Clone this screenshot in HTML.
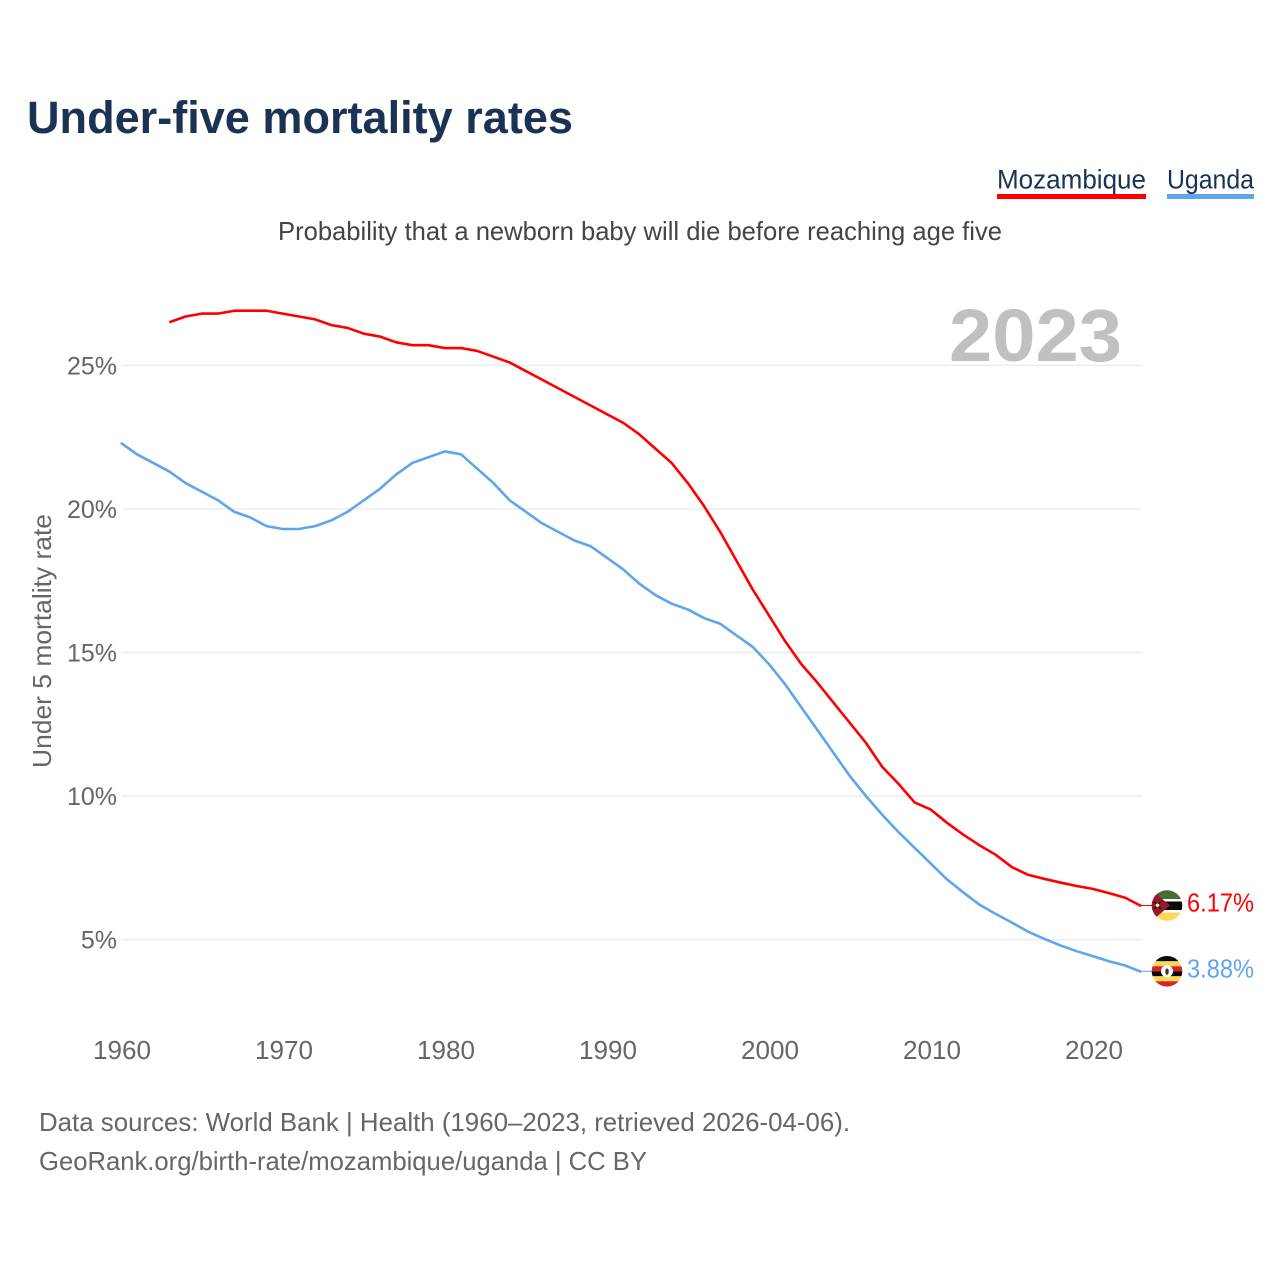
<!DOCTYPE html>
<html lang="en">
<head>
<meta charset="utf-8">
<title>Under-five mortality rates</title>
<style>
html,body{margin:0;padding:0;background:#fff;width:1280px;height:1280px;overflow:hidden}
svg{display:block}
text{font-family:"Liberation Sans",sans-serif}
</style>
</head>
<body>
<svg id="chart" xmlns="http://www.w3.org/2000/svg" width="1280" height="1280" viewBox="0 0 1280 1280">
  <defs>
    <clipPath id="flag-clip"><circle cx="0" cy="0" r="15.3"/></clipPath>
  </defs>
  <text x="27" y="133" font-size="45" font-weight="700" fill="#1a3253" textLength="546" lengthAdjust="spacingAndGlyphs">Under-five mortality rates</text>

  <g>
    <text x="997" y="188.5" font-size="27" fill="#1a3253" textLength="149" lengthAdjust="spacingAndGlyphs">Mozambique</text>
    <rect x="997" y="194" width="149" height="5" fill="#ff0000"/>
  </g>
  <g>
    <text x="1167" y="188.5" font-size="27" fill="#1a3253" textLength="87" lengthAdjust="spacingAndGlyphs">Uganda</text>
    <rect x="1167" y="194" width="87" height="5" fill="#5fa5ee"/>
  </g>

  <text x="278" y="240" font-size="26" fill="#444444" textLength="724" lengthAdjust="spacingAndGlyphs">Probability that a newborn baby will die before reaching age five</text>

  <g id="grid"></g>
  <g id="y-ticks"></g>
  <g id="x-ticks"></g>

  <text x="949" y="361" font-size="74" font-weight="700" fill="#c0c0c0" textLength="173" lengthAdjust="spacingAndGlyphs">2023</text>

  <text transform="translate(51 768) rotate(-90)" x="0" y="0" font-size="26" fill="#666666" textLength="254" lengthAdjust="spacingAndGlyphs">Under 5 mortality rate</text>

  <g id="series"></g>
  <g id="flags"></g>

  <text x="39" y="1131" font-size="26" fill="#666666" textLength="811" lengthAdjust="spacingAndGlyphs">Data sources: World Bank | Health (1960–2023, retrieved 2026-04-06).</text>
  <text x="39" y="1170" font-size="26" fill="#666666" textLength="608" lengthAdjust="spacingAndGlyphs">GeoRank.org/birth-rate/mozambique/uganda | CC BY</text>
</svg>

<script>
const years = [1960,1961,1962,1963,1964,1965,1966,1967,1968,1969,1970,1971,1972,1973,1974,1975,1976,1977,1978,1979,1980,1981,1982,1983,1984,1985,1986,1987,1988,1989,1990,1991,1992,1993,1994,1995,1996,1997,1998,1999,2000,2001,2002,2003,2004,2005,2006,2007,2008,2009,2010,2011,2012,2013,2014,2015,2016,2017,2018,2019,2020,2021,2022,2023];
const mozambique = [null,null,null,26.5,26.7,26.8,26.8,26.9,26.9,26.9,26.8,26.7,26.6,26.4,26.3,26.1,26.0,25.8,25.7,25.7,25.6,25.6,25.5,25.3,25.1,24.8,24.5,24.2,23.9,23.6,23.3,23.0,22.6,22.1,21.6,20.9,20.1,19.2,18.2,17.2,16.3,15.4,14.6,13.95,13.25,12.55,11.85,11.02,10.43,9.78,9.53,9.07,8.66,8.29,7.96,7.53,7.26,7.12,6.99,6.87,6.77,6.62,6.46,6.17];
const uganda = [22.3,21.9,21.6,21.3,20.9,20.6,20.3,19.9,19.7,19.4,19.3,19.3,19.4,19.6,19.9,20.3,20.7,21.2,21.6,21.8,22.0,21.9,21.4,20.9,20.3,19.9,19.5,19.2,18.9,18.7,18.3,17.9,17.4,17.0,16.7,16.5,16.2,16.0,15.6,15.2,14.6,13.9,13.1,12.3,11.5,10.7,10.0,9.35,8.75,8.2,7.65,7.1,6.65,6.22,5.9,5.6,5.28,5.03,4.8,4.6,4.43,4.25,4.1,3.88];
const yTickValues = [5,10,15,20,25];
const xTickYears = [1960,1970,1980,1990,2000,2010,2020];

const NS = 'http://www.w3.org/2000/svg';
function xScale(year){ return 120.8 + (year - 1960) * 16.2; }
function yScale(v){ return 939.7 - (v - 5) * 28.72; }
function make(tag, attrs){
  const el = document.createElementNS(NS, tag);
  for (const k in attrs) el.setAttribute(k, attrs[k]);
  return el;
}

const grid = document.getElementById('grid');
const yTicks = document.getElementById('y-ticks');
yTickValues.forEach(function(v){
  const line = make('line', {x1:122, x2:1142, y1:yScale(v), y2:yScale(v), stroke:'#ececec', 'stroke-width':1.4});
  
  
  grid.appendChild(line);
  const label = make('text', {x:117, y:yScale(v) + 9, 'text-anchor':'end', 'font-size':25, fill:'#666666'});
  
  
  label.textContent = v + '%';
  yTicks.appendChild(label);
});

const xTicks = document.getElementById('x-ticks');
xTickYears.forEach(function(yr){
  const label = make('text', {x:xScale(yr) + 1.2, y:1059, 'text-anchor':'middle', 'font-size':26, fill:'#666666', textLength:58, lengthAdjust:'spacingAndGlyphs'});
  
  
  label.textContent = String(yr);
  xTicks.appendChild(label);
});

function linePath(values){
  let d = '';
  values.forEach(function(v, i){
    if (v === null) return;
    d += (d ? 'L' : 'M') + xScale(years[i]).toFixed(2) + ' ' + yScale(v).toFixed(2);
  });
  return d;
}
const seriesGroup = document.getElementById('series');

const mozLine = make('path', {d:linePath(mozambique), fill:'none', stroke:'#ff0000', 'stroke-width':2.6, 'stroke-linejoin':'round'});


seriesGroup.appendChild(mozLine);

const ugaLine = make('path', {d:linePath(uganda), fill:'none', stroke:'#5fa5ee', 'stroke-width':2.6, 'stroke-linejoin':'round'});


seriesGroup.appendChild(ugaLine);

const flags = document.getElementById('flags');
const lastYear = years[years.length - 1];
const flagX = 1167;

function rectsInto(g, rows){
  rows.forEach(function(r){
    g.appendChild(make('rect', {x:-16, y:r[0], width:32, height:r[1], fill:r[2]}));
  });
}

/* Mozambique end marker */
const mozLast = mozambique[mozambique.length - 1];
const mozY = yScale(mozLast) - 0.6;
const mozStub = make('line', {x1:xScale(lastYear), x2:flagX - 14, y1:mozY, y2:mozY, stroke:'#ff0000', 'stroke-width':1});


flags.appendChild(mozStub);

const mozFlag = make('g', {transform:'translate(' + flagX + ' ' + mozY + ')', 'clip-path':'url(#flag-clip)'});


rectsInto(mozFlag, [[-16,32,'#ffffff'],[-16,9.5,'#4c6b30'],[-4,8.5,'#0a0a0a'],[7,9,'#fdd95a']]);
mozFlag.appendChild(make('polygon', {points:'-16,-16 3,0 -16,16', fill:'#99182b'}));
mozFlag.appendChild(make('path', {d:'M-13 -4L-6 3.5M-6 -4L-13 3.5', stroke:'#111111', 'stroke-width':1.6, fill:'none'}));
mozFlag.appendChild(make('circle', {cx:-9.5, cy:-0.2, r:1.8, fill:'#f5e3a0'}));
flags.appendChild(mozFlag);

const mozLabel = make('text', {x:1187, y:mozY + 6, 'font-size':26, fill:'#ff0000', textLength:67, lengthAdjust:'spacingAndGlyphs'});


mozLabel.textContent = mozLast.toFixed(2) + '%';
flags.appendChild(mozLabel);

/* Uganda end marker */
const ugaLast = uganda[uganda.length - 1];
const ugaY = yScale(ugaLast) - 0.6;
const ugaStub = make('line', {x1:xScale(lastYear), x2:flagX - 14, y1:ugaY, y2:ugaY, stroke:'#5fa5ee', 'stroke-width':1});


flags.appendChild(ugaStub);

const ugaFlag = make('g', {transform:'translate(' + flagX + ' ' + ugaY + ')', 'clip-path':'url(#flag-clip)'});


rectsInto(ugaFlag, [[-16,6,'#0a0a0a'],[-10,5,'#fcd955'],[-5,5,'#d9202c'],[0,5,'#0a0a0a'],[5,5,'#fcd955'],[10,6,'#d9202c']]);
ugaFlag.appendChild(make('circle', {cx:0, cy:0, r:6, fill:'#ffffff'}));
ugaFlag.appendChild(make('ellipse', {cx:0, cy:0.3, rx:1.7, ry:3.2, fill:'#333333'}));
flags.appendChild(ugaFlag);

const ugaLabel = make('text', {x:1187, y:ugaY + 6, 'font-size':26, fill:'#5fa5ee', textLength:67, lengthAdjust:'spacingAndGlyphs'});


ugaLabel.textContent = ugaLast.toFixed(2) + '%';
flags.appendChild(ugaLabel);
</script>
</body>
</html>
